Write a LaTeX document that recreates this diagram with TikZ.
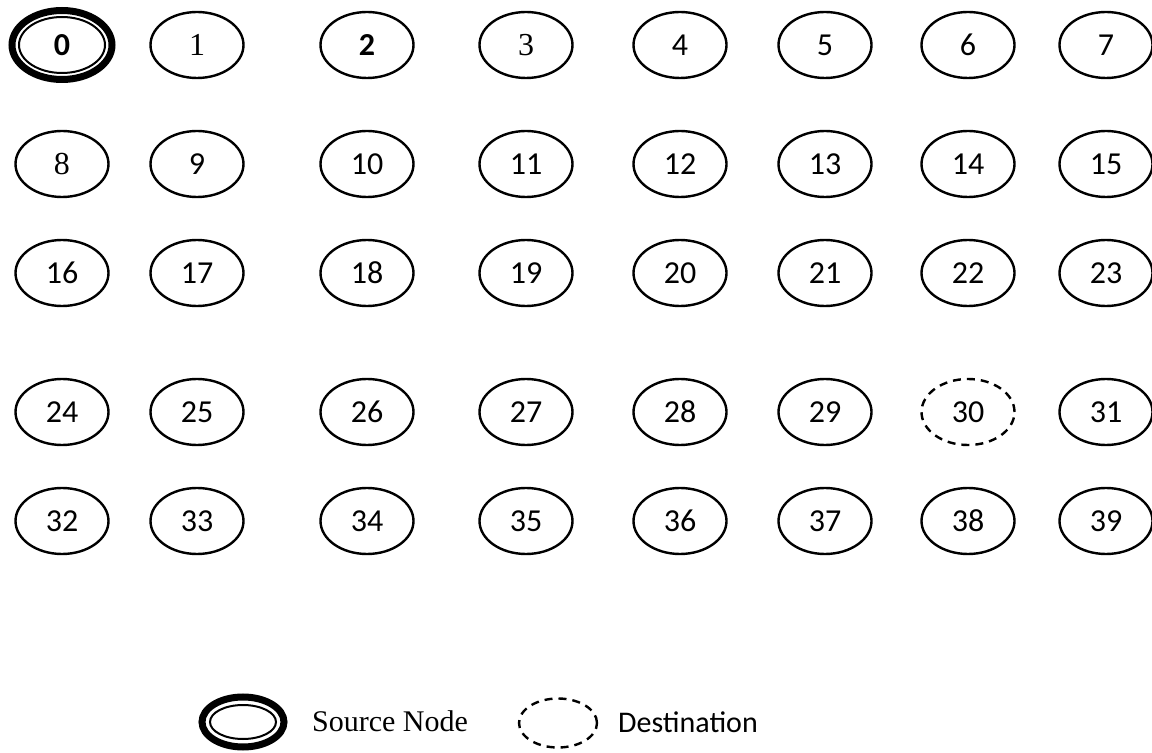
\documentclass[tikz,border=0pt]{standalone}
\usepackage{fontspec}
\setmainfont[Numbers=Lining]{Carlito}
\newfontfamily\timesfont{Liberation Serif}
\usetikzlibrary{shapes.geometric,positioning}

\begin{document}
\begin{tikzpicture}[
    x=0.5pt, y=-0.5pt,
    cell/.style={ellipse, draw=black, line width=1.2pt, minimum width=46.5pt, minimum height=33pt, inner sep=0pt, font=\fontsize{16}{19}\selectfont},
    srccell/.style={cell, line width=3.5pt, minimum width=50pt, minimum height=34.5pt},
    dstcell/.style={cell, dash pattern=on 4pt off 3pt},
    inring/.style={draw=black, line width=1pt},
    keytext/.style={font=\fontsize{15}{18}\selectfont}
]
    \useasboundingbox (0,0) rectangle (1152,753);

    % Row 1
    \node[srccell] (n0) at (62,45)   {\bfseries 0};
    \draw[inring] (n0.center) ellipse [x radius=21.5pt, y radius=14pt];
    \node[cell] (n1) at (197,45)  {\timesfont 1};
    \node[cell] (n2) at (367,45)  {\bfseries 2};
    \node[cell] (n3) at (526,45)  {\timesfont 3};
    \node[cell] (n4) at (680,45)  {4};
    \node[cell] (n5) at (825,45)  {5};
    \node[cell] (n6) at (968,45)  {6};
    \node[cell] (n7) at (1106,45) {7};

    % Row 2
    \node[cell] (n8)  at (62,164)   {\timesfont 8};
    \node[cell] (n9)  at (197,164)  {9};
    \node[cell] (n10) at (367,164)  {10};
    \node[cell] (n11) at (526,164)  {11};
    \node[cell] (n12) at (680,164)  {12};
    \node[cell] (n13) at (825,164)  {13};
    \node[cell] (n14) at (968,164)  {14};
    \node[cell] (n15) at (1106,164) {15};

    % Row 3
    \node[cell] (n16) at (62,273)   {16};
    \node[cell] (n17) at (197,273)  {17};
    \node[cell] (n18) at (367,273)  {18};
    \node[cell] (n19) at (526,273)  {19};
    \node[cell] (n20) at (680,273)  {20};
    \node[cell] (n21) at (825,273)  {21};
    \node[cell] (n22) at (968,273)  {22};
    \node[cell] (n23) at (1106,273) {23};

    % Row 4 -- destination is 30
    \node[cell]    (n24) at (62,412)   {24};
    \node[cell]    (n25) at (197,412)  {25};
    \node[cell]    (n26) at (367,412)  {26};
    \node[cell]    (n27) at (526,412)  {27};
    \node[cell]    (n28) at (680,412)  {28};
    \node[cell]    (n29) at (825,412)  {29};
    \node[dstcell] (n30) at (968,412)  {30};
    \node[cell]    (n31) at (1106,412) {31};

    % Row 5
    \node[cell] (n32) at (62,521)   {32};
    \node[cell] (n33) at (197,521)  {33};
    \node[cell] (n34) at (367,521)  {34};
    \node[cell] (n35) at (526,521)  {35};
    \node[cell] (n36) at (680,521)  {36};
    \node[cell] (n37) at (825,521)  {37};
    \node[cell] (n38) at (968,521)  {38};
    \node[cell] (n39) at (1106,521) {39};

    % Legend
    \node[srccell, minimum width=41pt, minimum height=25pt] (srckey) at (243,722) {};
    \draw[inring] (srckey.center) ellipse [x radius=16.5pt, y radius=8.5pt];
    \node[keytext] (srctext) at (390,721) {\timesfont Source Node};
    \node[dstcell, minimum width=39pt, minimum height=24.5pt] (dstkey) at (558,723) {};
    \node[keytext] (dsttext) at (688,722) {Destination};

\end{tikzpicture}
\end{document}
